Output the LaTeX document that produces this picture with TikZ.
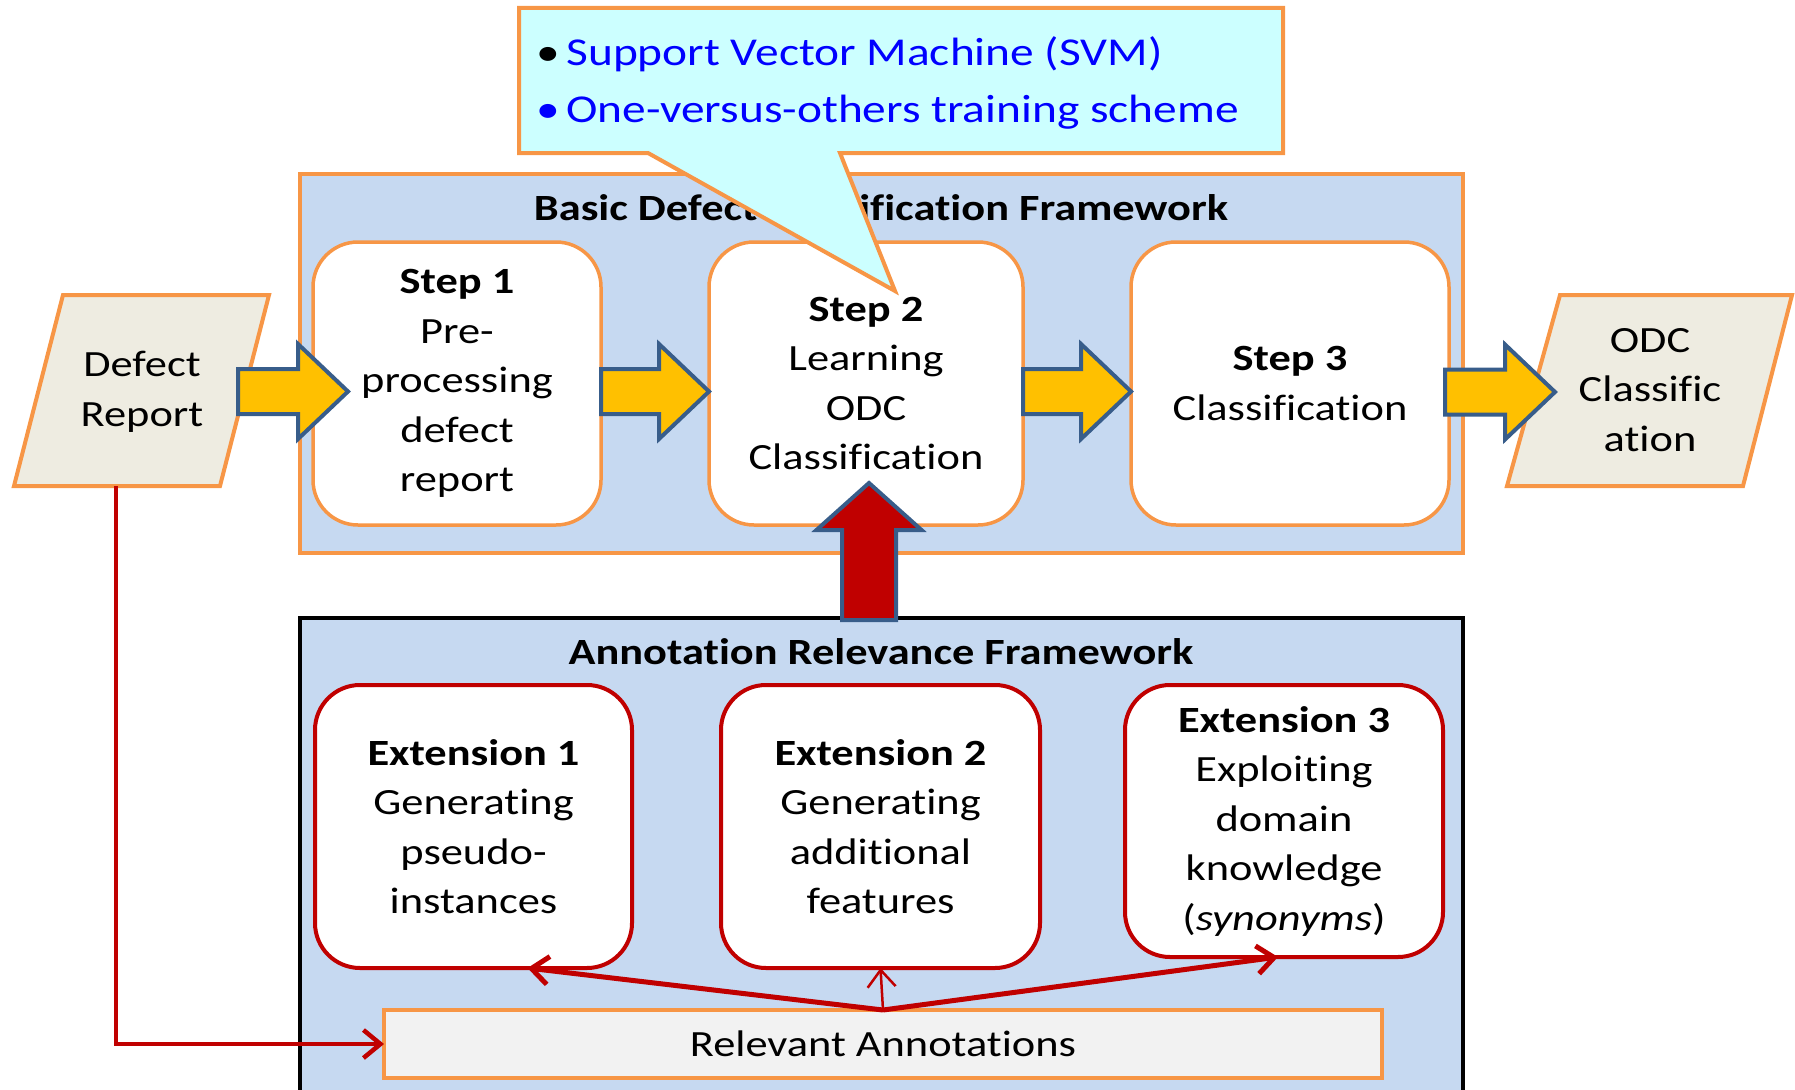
\documentclass[tikz,border=0pt]{standalone}
\usepackage{fontspec}
\setmainfont{Carlito}[FakeStretch=1.2,Ligatures=CommonOff]
\usetikzlibrary{arrows.meta,calc}
\definecolor{orng}{HTML}{F79646}
\definecolor{lblue}{HTML}{C6D9F1}
\definecolor{cyanfill}{HTML}{CCFFFF}
\definecolor{txtblue}{HTML}{0000FF}
\definecolor{gold}{HTML}{FFC000}
\definecolor{arrowedge}{HTML}{385D8A}
\definecolor{dred}{HTML}{C00000}
\definecolor{beige}{HTML}{EEECE1}
\definecolor{lgray}{HTML}{F2F2F2}
\newcommand\harrow[2]{%
  \draw[yarrow] let \p1=(#1), \p2=(#2) in
   (\x1,{\y2+22.5pt}) -- ({\x2-50pt},{\y2+22.5pt}) -- ({\x2-50pt},{\y2+47.5pt})
   -- (\x2,\y2) -- ({\x2-50pt},{\y2-47.5pt}) -- ({\x2-50pt},{\y2-22.5pt})
   -- (\x1,{\y2-22.5pt}) -- cycle;}
\newcommand\varrow[2]{%
  \draw[rarrow] let \p1=(#1), \p2=(#2) in
   ({\x2-27pt},\y1) -- ({\x2-27pt},{\y2-47pt}) -- ({\x2-52.5pt},{\y2-47pt})
   -- (\x2,\y2) -- ({\x2+52.5pt},{\y2-47pt}) -- ({\x2+27pt},{\y2-47pt})
   -- ({\x2+27pt},\y1) -- cycle;}
\tikzset{
  frame/.style={draw=orng, line width=4pt, fill=lblue, outer sep=0pt, inner sep=0pt},
  darkframe/.style={draw=black, line width=4pt, fill=lblue, outer sep=0pt, inner sep=0pt},
  bodytext/.style={align=center, text=black, inner sep=0pt, font=\fontsize{37pt}{49.5pt}\selectfont},
  titletext/.style={text=black, inner sep=0pt, font=\bfseries\fontsize{37pt}{44pt}\selectfont},
  stepbox/.style={bodytext, draw=orng, line width=3.5pt, fill=white, rounded corners=45pt, outer sep=0pt},
  extbox/.style={bodytext, draw=dred, line width=4pt, fill=white, rounded corners=45pt, outer sep=0pt},
  relbox/.style={bodytext, draw=orng, line width=4pt, fill=lgray, outer sep=0pt},
  para/.style={draw=orng, line width=4pt, fill=beige},
  yarrow/.style={draw=arrowedge, line width=4pt, fill=gold, line join=miter},
  rarrow/.style={draw=arrowedge, line width=4pt, fill=dred, line join=miter},
  redcon/.style={draw=dred, line width=5pt, -{Straight Barb[length=17pt,width=28pt]}},
  callout/.style={draw=orng, line width=4pt, fill=cyanfill, line join=miter},
  ctext/.style={text=txtblue, inner sep=0pt, anchor=base west, font=\fontsize{39.5pt}{48pt}\selectfont},
}
\begin{document}
\begin{tikzpicture}[x=1pt,y=-1pt]
\useasboundingbox (0,0) rectangle (1795,1089);
% frames
\node[frame, minimum width=1163pt, minimum height=379pt] (basic) at (881.5,363.5) {};
\node[titletext] (basictitle) at (881,208) {Basic Defect Classification Framework};
\node[darkframe, minimum width=1163pt, minimum height=474pt] (arf) at (881.5,855) {};
\node[titletext] (arftitle) at (881,652) {Annotation Relevance Framework};
% step boxes
\node[stepbox, minimum width=288pt, minimum height=283pt] (step1) at (457,383.5)
  {\textbf{Step 1}\\Pre-\\processing\\defect\\report};
\node[stepbox, minimum width=314pt, minimum height=283pt] (step2) at (866,383.5)
  {\textbf{Step 2}\\Learning\\ODC\\Classification};
\node[stepbox, minimum width=318pt, minimum height=283pt] (step3) at (1290,383.5)
  {\textbf{Step 3}\\Classification};
% parallelograms
\draw[para] (63,295) -- (269,295) -- (220,486) -- (14,486) -- cycle;
\node[bodytext] (defect) at (142,392) {Defect\\Report};
\coordinate (defectfoot) at (116,486);
\draw[para] (1560,295) -- (1792,295) -- (1743,486) -- (1507,486) -- cycle;
\node[bodytext] (odc) at (1650,390) {ODC\\Classific\\ation};
% extension boxes
\node[extbox, minimum width=317pt, minimum height=283pt] (ext1) at (473.5,826.5)
  {\textbf{Extension 1}\\Generating\\pseudo-\\instances};
\node[extbox, minimum width=319pt, minimum height=283pt] (ext2) at (880.5,826.5)
  {\textbf{Extension 2}\\Generating\\additional\\features};
\node[extbox, minimum width=318pt, minimum height=272pt] (ext3) at (1284,821)
  {\textbf{Extension 3}\\Exploiting\\domain\\knowledge\\(\textit{synonyms})};
\node[relbox, minimum width=998pt, minimum height=68pt] (rel) at (883,1044) {Relevant Annotations};
% red connectors
\draw[redcon] (rel.north) -- ($(ext1.south)+(54,0)$);
\draw[redcon, line width=2.5pt] (rel.north) -- (ext2.south);
\draw[redcon] (rel.north) -- ($(ext3.south)+(-6,0)$);
\draw[redcon, line width=4.5pt] (defectfoot) |- (rel.west);
% yellow block arrows
\coordinate (a1s) at (238,392);
\harrow{a1s}{$(step1.west)+(35,8)$}
\harrow{$(step1.east)+(0,8)$}{$(step2.west)+(0,8)$}
\harrow{$(step2.east)+(0,8)$}{$(step3.west)+(0,8)$}
\coordinate (a4e) at (1555,392);
\harrow{$(step3.east)+(-4,8)$}{a4e}
% red up arrow
\coordinate (upfoot) at (869,620);
\coordinate (uptip) at (869,483);
\varrow{upfoot}{uptip}
% callout
\draw[callout] (519,8) -- (1283,8) -- (1283,153) -- (840,153) -- (895,291) -- (648,153) -- (519,153) -- cycle;
\node[ctext] (svm) at (536,66) {\textcolor{black}{•}\,Support Vector Machine (SVM)};
\node[ctext] (ovo) at (536,122) {•\,One-versus-others training scheme};
\end{tikzpicture}
\end{document}
